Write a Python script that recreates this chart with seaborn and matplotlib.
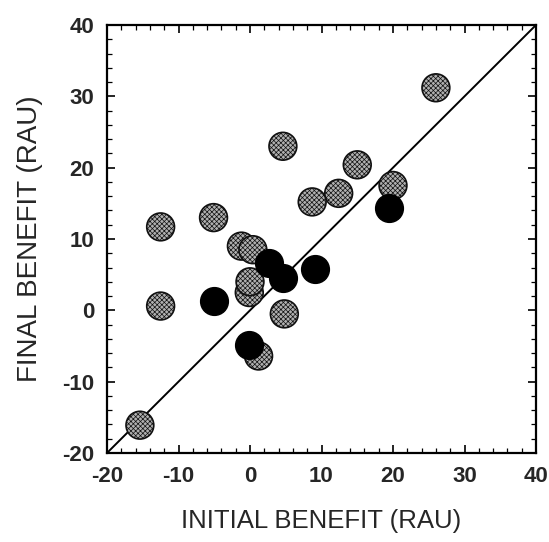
import matplotlib
matplotlib.use("Agg")
import matplotlib.pyplot as plt
import seaborn as sns
import pandas as pd
from matplotlib.ticker import MultipleLocator

# Data
gray_initial = [26.0, 4.6, 15.0, 20.0, 12.4, 8.7, -5.1, -12.5, -1.2, 0.4, -0.1, 0.0, -12.5, 4.8, 1.2, -15.4]
gray_final = [31.2, 23.0, 20.4, 17.5, 16.4, 15.2, 13.0, 11.7, 9.0, 8.5, 2.5, 4.0, 0.6, -0.5, -6.4, -16.1]
black_initial = [19.5, 2.7, 4.6, 9.1, -5.1, -0.2]
black_final = [14.3, 6.7, 4.5, 5.8, 1.3, -4.8]
diag = [-20, 40]

gray_df = pd.DataFrame({"x": gray_initial, "y": gray_final})
black_df = pd.DataFrame({"x": black_initial, "y": black_final})

sns.set_style("ticks")
plt.rcParams['font.family'] = ['Liberation Sans', 'DejaVu Sans']
plt.rcParams['hatch.linewidth'] = 0.5
plt.rcParams['axes.unicode_minus'] = False

fig = plt.figure(figsize=(5.49, 5.42), dpi=100)
ax = fig.add_axes([107 / 549, 1 - 453 / 542, 429 / 549, 428 / 542])

sns.lineplot(x=diag, y=diag, ax=ax, color="black", linewidth=1.4, zorder=1)
sns.scatterplot(data=gray_df, x="x", y="y", ax=ax, s=400, facecolor="#b0b0b0",
                edgecolor="#111111", linewidth=1.2, hatch="xxxxxxx", zorder=2)
sns.scatterplot(data=black_df, x="x", y="y", ax=ax, s=400, color="black",
                edgecolor="black", linewidth=1.0, zorder=3)

ax.set_xlim(-20, 40)
ax.set_ylim(-20, 40)
ax.xaxis.set_major_locator(MultipleLocator(10))
ax.yaxis.set_major_locator(MultipleLocator(10))
ax.xaxis.set_minor_locator(MultipleLocator(2))
ax.yaxis.set_minor_locator(MultipleLocator(2))
ax.tick_params(which="both", direction="in", top=True, right=True, color="black")
ax.tick_params(which="major", length=6, width=1.2, labelsize=16, pad=9)
ax.tick_params(which="minor", length=3.5, width=0.9)
for lab in ax.get_xticklabels() + ax.get_yticklabels():
    lab.set_fontweight("bold")
for sp in ax.spines.values():
    sp.set_linewidth(1.6)
    sp.set_color("black")

ax.set_xlabel("INITIAL BENEFIT (RAU)", fontsize=18.5, labelpad=16)
ax.set_ylabel("FINAL BENEFIT (RAU)", fontsize=20, labelpad=14)

fig.savefig("out.png", dpi=100)
